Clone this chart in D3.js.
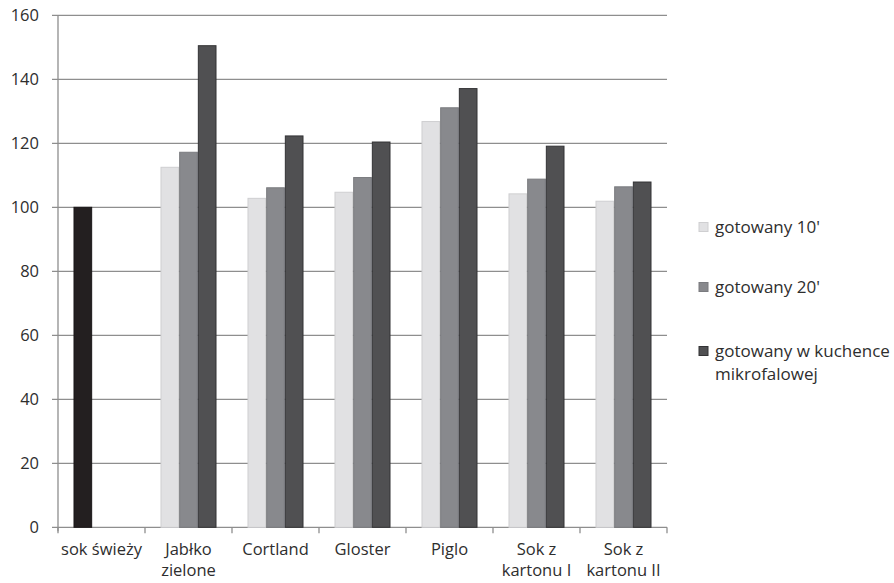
<!DOCTYPE html>
<html><head><meta charset="utf-8">
<script src="https://cdn.jsdelivr.net/npm/d3@7"></script>
<style>
body{margin:0;background:#fff}
svg text{font-family:'Open Sans',sans-serif;fill:#2e2e2e}
</style>
</head><body><svg id="c" width="894" height="583"></svg>
<script>
const categories = ["sok świeży","Jabłko zielone","Cortland","Gloster","Piglo","Sok z kartonu I","Sok z kartonu II"];
const categoryLines = [["sok świeży"],["Jabłko","zielone"],["Cortland"],["Gloster"],["Piglo"],["Sok z","kartonu I"],["Sok z","kartonu II"]];
const seriesNames = ["gotowany 10'","gotowany 20'","gotowany w kuchence mikrofalowej"];
const legendLines = [["gotowany 10'"],["gotowany 20'"],["gotowany w kuchence","mikrofalowej"]];
const gotowany10 = [100, 112.5, 102.8, 104.7, 126.8, 104.2, 101.9];
const gotowany20 = [null, 117.2, 106.1, 109.3, 131.1, 108.8, 106.4];
const mikrofala  = [null, 150.5, 122.3, 120.4, 137.1, 119.1, 107.9];
const yTicks = [0,20,40,60,80,100,120,140,160];

const seriesValues = [gotowany10, gotowany20, mikrofala];
const fills = ["#e1e1e3","#88898d","#505052"];
const strokes = ["#cfcfd1","#7a7b7f","#333335"];
const freshFill = "#231f20";

const svg = d3.select("#c");
const L = 58, R = 667, T = 15.3, B = 527.3;
const y = d3.scaleLinear().domain([0,160]).range([B,T]);
const x0 = d3.scaleBand().domain(categories).range([L,R]).paddingInner(0).paddingOuter(0);
const x1 = d3.scaleBand().domain(seriesNames).range([0,x0.bandwidth()]).paddingInner(0).paddingOuter(0.83);

const gridC = "#8e8e8e";
// gridlines
svg.append("g").selectAll("line").data(yTicks).join("line")
  .attr("x1",L-6).attr("x2",R).attr("y1",d=>y(d)).attr("y2",d=>y(d))
  .attr("stroke",gridC).attr("stroke-width",1.3);
// y axis line
svg.append("line").attr("x1",L).attr("x2",L).attr("y1",T).attr("y2",B+4)
  .attr("stroke",gridC).attr("stroke-width",1.3);
// x ticks
const bounds = categories.map(c=>x0(c)).concat([R]);
svg.append("g").selectAll("line").data(bounds).join("line")
  .attr("x1",d=>d).attr("x2",d=>d).attr("y1",B).attr("y2",B+6)
  .attr("stroke",gridC).attr("stroke-width",1.3);
// y labels
svg.append("g").selectAll("text").data(yTicks).join("text")
  .attr("x",39).attr("y",d=>y(d)).attr("dy","0.35em").attr("text-anchor","end")
  .style("font-size","16.5px").text(d=>d);

// bars
const barData = [];
categories.forEach((c,i)=>{
  seriesNames.forEach((s,j)=>{
    const v = seriesValues[j][i];
    if (v!=null) barData.push({c,s,j,i,v});
  });
});
svg.append("g").selectAll("rect").data(barData).join("rect")
  .attr("x",d=>x0(d.c)+x1(d.s)+0.5)
  .attr("width",x1.bandwidth()-1)
  .attr("y",d=>y(d.v))
  .attr("height",d=>B-y(d.v))
  .attr("fill",d=>d.i===0?freshFill:fills[d.j])
  .attr("stroke",d=>d.i===0?"#1a1718":strokes[d.j])
  .attr("stroke-width",1);

// category labels
const cg = svg.append("g").selectAll("text").data(categories).join("text")
  .attr("x",d=>x0(d)+x0.bandwidth()/2).attr("y",555)
  .attr("text-anchor","middle").style("font-size","16.5px");
cg.selectAll("tspan").data((d,i)=>categoryLines[i]).join("tspan")
  .attr("x",function(){return this.parentNode.getAttribute("x");})
  .attr("dy",(d,k)=>k===0?0:21).text(d=>d);

// legend
const legY = [227, 287, 351];
const lg = svg.append("g").selectAll("g").data(seriesNames).join("g")
  .attr("transform",(d,i)=>`translate(699,${legY[i]})`);
lg.append("rect").attr("x",0).attr("y",-4.5).attr("width",9).attr("height",9)
  .attr("fill",(d,i)=>fills[i]).attr("stroke",(d,i)=>strokes[i]);
const lt = lg.append("text").attr("x",16).attr("y",0).style("font-size","17px");
lt.selectAll("tspan").data((d,i)=>legendLines[i]).join("tspan")
  .attr("x",16).attr("dy",(d,k)=>k===0?"0.35em":23).text(d=>d);
</script></body></html>
